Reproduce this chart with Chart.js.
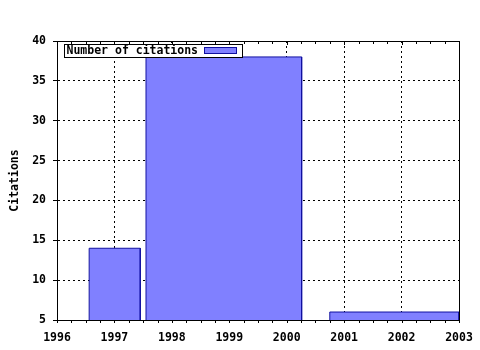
<!DOCTYPE html>
<html lang="en">
<head>
  <meta charset="UTF-8">
  <title>Citations</title>
  <script src="https://cdn.jsdelivr.net/npm/chart.js"></script>
  <style>
    html, body { margin: 0; padding: 0; background: #fff; }
    #wrap { width: 480px; height: 350px; }
  </style>
</head>
<body>
  <div id="wrap"><canvas id="grafico"></canvas></div>

<script>
  // dados
  const rotuloSerie = 'Number of citations';
  const inicioBarra = [1996.56, 1997.55, 2000.75];
  const fimBarra = [1997.45, 2000.26, 2003];
  const citacoes = [14, 38, 6];
  const anosX = [1996, 2003];
  const limitesY = [5, 40];

  const corBarra = '#8080ff';
  const corBorda = '#1010a0';
  const fonte = { family: 'DejaVu Sans Mono', size: 11.5, weight: 'bold' };

  // cada barra vira um retangulo desenhado pelas escalas
  const datasets = citacoes.map((v, i) => ({
    label: rotuloSerie,
    data: [
      { x: inicioBarra[i], y: limitesY[0] },
      { x: inicioBarra[i], y: v },
      { x: fimBarra[i], y: v },
      { x: fimBarra[i], y: limitesY[0] }
    ],
    borderColor: corBorda,
    backgroundColor: corBarra,
    borderWidth: 1,
    fill: 'start',
    pointRadius: 0,
    tension: 0
  }));

  // moldura, ticks menores e legenda
  const moldura = {
    id: 'moldura',
    afterDraw(chart) {
      const c = chart.ctx;
      const a = chart.chartArea;
      const sx = chart.scales.x;
      c.save();
      c.strokeStyle = '#000';
      c.lineWidth = 1;
      c.strokeRect(Math.round(a.left) + 0.5, Math.round(a.top) + 0.5,
        Math.round(a.right - a.left), Math.round(a.bottom - a.top));

      c.beginPath();
      for (let v = anosX[0]; v <= anosX[1] + 0.001; v += 0.25) {
        const px = Math.round(sx.getPixelForValue(v)) + 0.5;
        const maior = Math.abs(v - Math.round(v)) < 0.001;
        c.moveTo(px, a.bottom);
        c.lineTo(px, a.bottom + 3);
        c.moveTo(px, a.top);
        c.lineTo(px, a.top + (maior ? 4 : 3));
      }
      c.stroke();

      // legenda dentro da area
      const lx = Math.round(a.left) + 7.5;
      const ly = Math.round(a.top) + 3.5;
      c.font = 'bold 11.5px "DejaVu Sans Mono"';
      const lw = 178;
      const lh = 13;
      c.fillStyle = '#fff';
      c.fillRect(lx, ly, lw, lh);
      c.strokeRect(lx, ly, lw, lh);
      c.fillStyle = '#000';
      c.textBaseline = 'middle';
      c.fillText(rotuloSerie, lx + 2, ly + lh / 2 + 0.5);
      c.fillStyle = corBarra;
      c.fillRect(lx + 140, ly + 3, 32, 6);
      c.strokeStyle = corBorda;
      c.strokeRect(lx + 140, ly + 3, 32, 6);
      c.restore();
    }
  };

  new Chart(document.getElementById('grafico'), {
    type: 'line',
    data: { datasets: datasets },
    options: {
      responsive: true,
      maintainAspectRatio: false,
      animation: false,
      layout: { padding: { left: 8, top: 41, right: 21, bottom: 0 } },
      plugins: {
        legend: { display: false },
        tooltip: { enabled: false }
      },
      scales: {
        x: {
          type: 'linear',
          min: anosX[0],
          max: anosX[1],
          afterFit: s => { s.height = 30; s.paddingLeft = 0; s.paddingRight = 0; },
          ticks: { stepSize: 1, color: '#000', font: fonte, padding: 11, maxRotation: 0,
            callback: v => String(v) },
          grid: { color: '#000', drawTicks: false, lineWidth: 1 },
          border: { display: true, color: '#000', dash: [2, 3] }
        },
        y: {
          min: limitesY[0],
          max: limitesY[1],
          afterFit: s => { s.width = 49; },
          ticks: { stepSize: 5, color: '#000', font: fonte, padding: 7 },
          grid: { color: '#000', drawTicks: true, tickLength: 4, lineWidth: 1 },
          border: { display: true, color: '#000', dash: [2, 3] },
          title: { display: true, text: 'Citations', color: '#000', font: fonte, padding: 0 }
        }
      }
    },
    plugins: [moldura]
  });
</script>
</body>
</html>
